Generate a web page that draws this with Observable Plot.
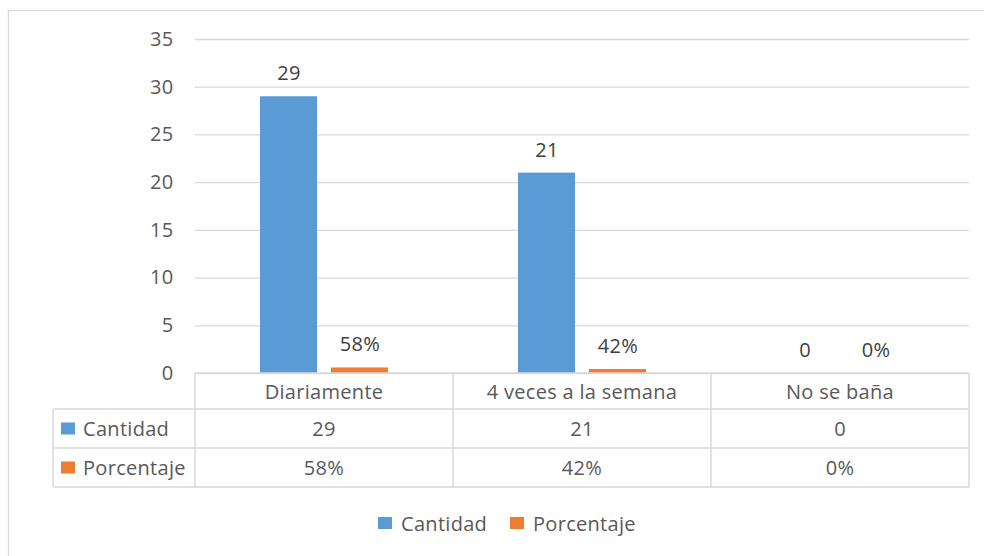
<!DOCTYPE html>
<html><head><meta charset="utf-8">
<script src="https://cdn.jsdelivr.net/npm/d3@7"></script>
<script src="https://cdn.jsdelivr.net/npm/@observablehq/plot@0.6"></script>
<style>
body{margin:0;background:#fff;}
#chart svg{display:block;}
</style></head><body><div id="chart"></div>
<script>
const categories = ["Diariamente", "4 veces a la semana", "No se baña"];
const series = ["Cantidad", "Porcentaje"];
const cantidad = [29, 21, 0];
const porcentaje = [0.58, 0.42, 0];
const colors = ["#5B9BD5", "#ED7D31"];
const yTicks = [0, 5, 10, 15, 20, 25, 30, 35];

const fmt = {Cantidad: v => String(v), Porcentaje: v => Math.round(v * 100) + "%"};
const data = [];
categories.forEach((c, i) => {
  data.push({cat: c, serie: "Cantidad", value: cantidad[i], label: fmt.Cantidad(cantidad[i])});
  data.push({cat: c, serie: "Porcentaje", value: porcentaje[i], label: fmt.Porcentaje(porcentaje[i])});
});

const FONT = "'Open Sans', sans-serif";
const FS = 20;
const GRID = "#d9d9d9";
const TXT = "#595959";

const chart = Plot.plot({
  width: 984, height: 556,
  marginLeft: 194, marginRight: 15, marginTop: 39, marginBottom: 183,
  style: {fontFamily: FONT, fontSize: FS + "px", color: TXT, background: "transparent", overflow: "visible", letterSpacing: "0.3px"},
  fx: {domain: categories, padding: 0, axis: null, label: null},
  x: {domain: series, paddingInner: 0.194, paddingOuter: 0.894, axis: null, label: null},
  y: {domain: [0, 35], axis: null},
  color: {domain: series, range: colors},
  marks: [
    Plot.ruleY(yTicks, {stroke: GRID, strokeWidth: 1.3}),
    Plot.axisY(yTicks, {tickSize: 0, tickPadding: 22, fontSize: FS, fill: TXT, label: null}),
    Plot.barY(data, {fx: "cat", x: "serie", y: "value", fill: "serie"}),
    Plot.text(data, {fx: "cat", x: "serie", y: "value", text: "label", dy: -23, fill: "#404040", fontSize: FS})
  ]
});

const svg = d3.select(chart);
const fx = chart.scale("fx");
const color = chart.scale("color");

// outer chart border
svg.insert("rect", ":first-child")
  .attr("x", 8.5).attr("y", 10.5).attr("width", 1000).attr("height", 600)
  .attr("fill", "none").attr("stroke", GRID).attr("stroke-width", 1.3);

// data table
const tableLeft = 53;
const x0 = fx.apply(categories[0]);
const xEnd = fx.apply(categories[categories.length - 1]) + fx.bandwidth;
const rowY = [373, 409, 448, 487];
const rows = [
  {name: "Cantidad", values: cantidad.map(fmt.Cantidad)},
  {name: "Porcentaje", values: porcentaje.map(fmt.Porcentaje)}
];
const tg = svg.append("g").attr("font-family", FONT).attr("font-size", FS).attr("fill", TXT);
const line = (x1, y1, x2, y2) => tg.append("line").attr("x1", x1).attr("y1", y1).attr("x2", x2).attr("y2", y2)
  .attr("stroke", GRID).attr("stroke-width", 1.5);
line(x0, rowY[0], xEnd, rowY[0]);
for (let r = 1; r < rowY.length; r++) line(tableLeft, rowY[r], xEnd, rowY[r]);
line(tableLeft, rowY[1], tableLeft, rowY[3]);
categories.forEach(c => line(fx.apply(c), rowY[0], fx.apply(c), rowY[3]));
line(xEnd, rowY[0], xEnd, rowY[3]);

categories.forEach(c => {
  tg.append("text").attr("x", fx.apply(c) + fx.bandwidth / 2).attr("y", (rowY[0] + rowY[1]) / 2)
    .attr("text-anchor", "middle").attr("dominant-baseline", "central").text(c);
});
rows.forEach((row, r) => {
  const yc = (rowY[r + 1] + rowY[r + 2]) / 2;
  tg.append("rect").attr("x", 61).attr("y", yc - 6).attr("width", 14).attr("height", 12).attr("fill", color.apply(row.name));
  tg.append("text").attr("x", 83).attr("y", yc).attr("text-anchor", "start").attr("dominant-baseline", "central").text(row.name);
  row.values.forEach((v, i) => {
    tg.append("text").attr("x", fx.apply(categories[i]) + fx.bandwidth / 2).attr("y", yc)
      .attr("text-anchor", "middle").attr("dominant-baseline", "central").text(v);
  });
});

// legend
const legendX = [378, 510];
series.forEach((s, i) => {
  tg.append("rect").attr("x", legendX[i]).attr("y", 517).attr("width", 14).attr("height", 12).attr("fill", color.apply(s));
  tg.append("text").attr("x", legendX[i] + 23).attr("y", 523).attr("text-anchor", "start").attr("dominant-baseline", "central").text(s);
});

document.getElementById("chart").appendChild(chart);
</script></body></html>
